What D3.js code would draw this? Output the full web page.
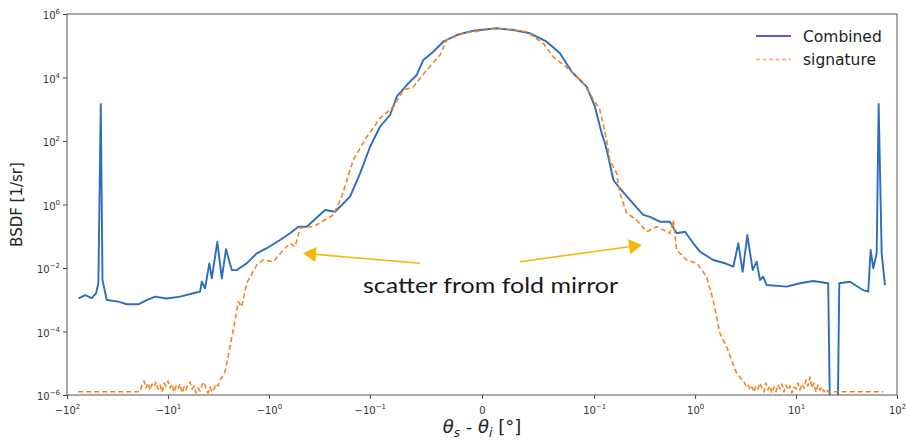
<!DOCTYPE html>
<html><head><meta charset="utf-8">
<script src="https://cdn.jsdelivr.net/npm/d3@7"></script>
<style>body{margin:0;background:#fff}</style>
</head><body>
<svg id="c" width="907" height="445"></svg>
<script>
// ---- data ----
const blueX=[-77,-66,-57,-51.5,-48.9,-46.3,-44.5,-40.4,-31,-25.6,-19.6,-16.2,-13.4,-10.3,-7.59,-5.6,-4.81,-4.62,-4.29,-3.89,-3.68,-3.24,-2.93,-2.66,-2.33,-2.08,-1.66,-1.32,-1.05,-0.776,-0.617,-0.511,-0.422,-0.278,-0.221,-0.157,-0.125,-0.0998,-0.0909,-0.082,-0.076,-0.0657,-0.0582,-0.0523,-0.0434,-0.0345,-0.0225,-0.0078,0.0131,0.0279,0.0428,0.0577,0.0695,0.08,0.0933,0.1018,0.1187,0.128,0.138,0.155,0.18,0.226,0.306,0.357,0.449,0.563,0.656,0.794,0.959,1.12,1.51,1.98,2.39,2.68,2.96,3.29,3.72,4.07,4.39,4.73,5.12,8.07,10.9,14.8,20.8,22.0,25.6,26.8,34.2,46.3,51.9,54.8,58.2,62.9,65.8,70.5,76.0];
const blueY=[1.1e-3,1.4e-3,1.13e-3,1.6e-3,3.3e-3,1460,4.2e-3,9.8e-4,8.7e-4,7.2e-4,7.2e-4,9.8e-4,1.25e-3,1.1e-3,1.25e-3,1.6e-3,1.8e-3,3.7e-3,2.3e-3,1.4e-2,4.7e-3,6.7e-2,4.7e-3,3.9e-2,8.6e-3,8.6e-3,1.4e-2,2.9e-2,4.2e-2,7.6e-2,0.124,0.2,0.2,0.67,0.59,1.76,9.6,66,282,659,2480,6560,1.2e4,3.56e4,6.5e4,1.34e5,2.18e5,2.98e5,3.55e5,3.13e5,2.47e5,1.34e5,5.8e4,1.52e4,5130,1200,175,85,32,5.9,3.2,1.39,0.47,0.41,0.287,0.287,0.124,0.139,0.06,0.0326,0.0179,0.0141,0.011,0.06,7.6e-3,0.109,8.6e-3,0.0158,4.2e-3,5.3e-3,2.9e-3,2.6e-3,3.3e-3,3.9e-3,3.3e-3,1e-8,1e-8,3.3e-3,3.7e-3,2.0e-3,1.8e-3,0.037,9.8e-3,0.029,1460,0.029,2.9e-3];
const orangeX=[-77.6,
 -18.9,-18.06,-17.25,-16.48,-15.75,-15.04,-14.37,-13.73,-13.12,-12.53,-11.97,-11.44,-10.93,-10.44,-9.98,-9.53,-9.11,-8.70,-8.31,-7.94,-7.59,-7.25,-6.93,-6.62,-6.32,-6.04,-5.77,-5.51,-5.27,-5.03,-4.81,-4.59,-4.39,-4.19,-4.01,-3.83,-3.66,-3.49,-3.34,-3.19,-3.05,-2.91,-2.78,-2.66,
 -2.43,-2.16,-2.01,-1.86,-1.66,-1.32,-1.135,-0.903,-0.719,-0.617,-0.551,-0.491,-0.406,-0.363,-0.23,-0.19,-0.146,-0.107,-0.0909,-0.079,-0.0701,-0.0612,-0.0493,-0.0374,-0.0315,-0.0167,0.0131,0.0398,0.0546,0.0635,0.0784,0.0903,0.114,0.133,0.143,0.167,0.18,0.21,0.264,0.331,0.416,0.563,0.608,0.656,0.825,1.04,1.30,1.51,1.76,2.05,2.58,
 3.05,3.19,3.34,3.49,3.66,3.83,4.01,4.19,4.39,4.59,4.81,5.03,5.27,5.51,5.77,6.04,6.32,6.62,6.93,7.25,7.59,7.94,8.31,8.70,9.11,9.53,9.98,10.44,10.93,11.44,11.97,12.53,13.12,13.73,14.37,15.04,15.75,16.48,17.25,18.06,18.9,19.78,20.7,
 73.1];
const orangeY=[1.27e-6,
 1.27e-6,2.07e-6,2.76e-6,1.66e-6,2.39e-6,1.44e-6,2.22e-6,1.79e-6,2.57e-6,1.55e-6,2.07e-6,1.24e-6,2.39e-6,1.92e-6,2.76e-6,1.66e-6,2.22e-6,1.24e-6,1.92e-6,1.55e-6,2.22e-6,1.16e-6,1.79e-6,1.44e-6,2.22e-6,2.57e-6,1.55e-6,1.92e-6,1.16e-6,1.66e-6,1.34e-6,2.07e-6,2.57e-6,1.44e-6,1.16e-6,1.79e-6,1.24e-6,1.55e-6,2.22e-6,1.92e-6,2.97e-6,3.69e-6,4.58e-6,7.08e-6,
 3.3e-5,2.3e-4,8.7e-4,6.0e-4,3.3e-3,0.0124,0.0179,0.0158,0.037,0.06,0.047,0.178,0.2,0.2,0.47,1.76,25.2,136,519,1200,4040,5130,1.72e4,5.1e4,1.52e5,2.47e5,3.55e5,2.77e5,1.19e5,4.5e4,1.72e4,6560,947,107,25,9.6,2.25,0.53,0.325,0.139,0.2,0.124,0.325,0.037,0.0179,0.0141,5.3e-3,9.8e-4,8.8e-5,3.3e-5,4.8e-6,
 2.57e-6,1.92e-6,2.22e-6,1.44e-6,1.79e-6,1.24e-6,1.92e-6,1.55e-6,2.39e-6,1.66e-6,1.24e-6,2.39e-6,1.44e-6,1.92e-6,1.16e-6,1.79e-6,1.27e-6,2.07e-6,1.55e-6,2.22e-6,1.24e-6,2.07e-6,1.44e-6,1.92e-6,1.16e-6,1.79e-6,1.55e-6,2.39e-6,1.44e-6,2.22e-6,1.66e-6,2.97e-6,1.92e-6,3.69e-6,1.66e-6,2.39e-6,1.24e-6,2.07e-6,1.44e-6,1.79e-6,1.24e-6,1.55e-6,1.27e-6,
 1.27e-6];
const seriesNames=["Combined","signature"];
const xTickValues=[-100,-10,-1,-0.1,0,0.1,1,10,100];
const xTickBase=["\u221210","\u221210","\u221210","\u221210","0","10","10","10","10"];
const xTickExp=["2","1","0","\u22121","","\u22121","0","1","2"];
const yTickValues=[1e-6,1e-4,1e-2,1,1e2,1e4,1e6];
const yTickExp=["\u22126","\u22124","\u22122","0","2","4","6"];
const annotationText="scatter from fold mirror";

// ---- scales ----
const LT=0.1, LS=1/(1-1/10);
function symT(v){const a=Math.abs(v);return a<=LT? v/LT*LS : Math.sign(v)*(LS+Math.log10(a/LT));}
const M={l:67,r:897,t:14,b:395};
const xLin=d3.scaleLinear().domain([symT(-100),symT(100)]).range([M.l,M.r]);
const X=v=>xLin(symT(v));
const Y=d3.scaleLog().domain([1e-6,1e6]).range([M.b,M.t]);

const svg=d3.select("#c");
const FONT="DejaVu Sans, sans-serif";
const tickCol="#333";

svg.append("defs").append("clipPath").attr("id","clip").append("rect")
  .attr("x",M.l).attr("y",M.t).attr("width",M.r-M.l).attr("height",M.b-M.t);

// ---- lines ----
const line=d3.line().x(d=>X(d[0])).y(d=>Y(d[1]));
const blue=blueX.map((x,i)=>[x,blueY[i]]);
const orange=orangeX.map((x,i)=>[x,orangeY[i]]);
const plot=svg.append("g").attr("clip-path","url(#clip)");
plot.append("path").datum(blue).attr("d",line).attr("fill","none")
  .attr("stroke","#2a6ec0").attr("stroke-width",1.9).attr("stroke-linejoin","round");
plot.append("path").datum(orange).attr("d",line).attr("fill","none")
  .attr("stroke","#f5821f").attr("stroke-width",1.6).attr("stroke-dasharray","5,3").attr("stroke-linejoin","round");

// ---- axes ----
const gx=svg.append("g").attr("transform",`translate(0,${M.b})`)
  .call(d3.axisBottom(xLin).tickValues(xTickValues.map(symT)).tickSize(4).tickSizeOuter(0).tickFormat(()=>""));
gx.select(".domain").remove();
gx.selectAll(".tick line").attr("stroke","#444");
gx.selectAll(".tick text").each(function(d,i){
  const t=d3.select(this).attr("y",19).attr("dy",null).attr("font-family",FONT).attr("font-size",10).attr("fill",tickCol);
  t.text(null);
  t.append("tspan").text(xTickBase[i]);
  if(xTickExp[i]) t.append("tspan").attr("dy",-5).attr("font-size",7).text(xTickExp[i]);
});
const gy=svg.append("g").attr("transform",`translate(${M.l},0)`)
  .call(d3.axisLeft(Y).tickValues(yTickValues).tickSize(4).tickSizeOuter(0).tickFormat(()=>""));
gy.select(".domain").remove();
gy.selectAll(".tick line").attr("stroke","#444");
gy.selectAll(".tick text").each(function(d,i){
  const t=d3.select(this).attr("x",-7).attr("dy",null).attr("y",4.5).attr("text-anchor","end")
    .attr("font-family",FONT).attr("font-size",10).attr("fill",tickCol);
  t.text(null);
  t.append("tspan").text("10");
  t.append("tspan").attr("dy",-5).attr("font-size",7).text(yTickExp[i]);
});
// frame
svg.append("rect").attr("x",M.l).attr("y",M.t).attr("width",M.r-M.l).attr("height",M.b-M.t)
  .attr("fill","none").attr("stroke","#555").attr("stroke-width",1);

// ---- axis labels ----
svg.append("text").attr("transform",`translate(22,${(M.t+M.b)/2}) rotate(-90)`)
  .attr("text-anchor","middle").attr("font-family",FONT).attr("font-size",15).attr("fill","#222")
  .text("BSDF [1/sr]");
const xl=svg.append("text").attr("x",(M.l+M.r)/2).attr("y",433).attr("text-anchor","middle")
  .attr("font-family",FONT).attr("font-size",18).attr("fill","#222");
xl.append("tspan").attr("font-style","italic").text("\u03b8");
xl.append("tspan").attr("font-style","italic").attr("font-size",12).attr("dy",4).text("s");
xl.append("tspan").attr("dy",-4).text(" - ");
xl.append("tspan").attr("font-style","italic").text("\u03b8");
xl.append("tspan").attr("font-style","italic").attr("font-size",12).attr("dy",4).text("i");
xl.append("tspan").attr("dy",-4).text(" [\u00b0]");

// ---- legend ----
const lg=svg.append("g");
const legendStyles=[{c:"#5858e0",w:2,dash:null},{c:"#f7a86a",w:1.5,dash:"4,2.5"}];
seriesNames.forEach((n,i)=>{
  const y=36+i*23.5;
  lg.append("line").attr("x1",756).attr("x2",791).attr("y1",y).attr("y2",y)
    .attr("stroke",legendStyles[i].c).attr("stroke-width",legendStyles[i].w)
    .attr("stroke-dasharray",legendStyles[i].dash);
  lg.append("text").attr("x",803).attr("y",y+5.5).attr("font-family",FONT).attr("font-size",15.5)
    .attr("fill","#222").text(n);
});

// ---- annotation ----
const gold="#f5b705";
function arrow(x1,y1,x2,y2){
  const a=Math.atan2(y2-y1,x2-x1), L=13, W=7.5;
  const bx=x2-L*Math.cos(a), by=y2-L*Math.sin(a);
  svg.append("line").attr("x1",x1).attr("y1",y1).attr("x2",bx).attr("y2",by)
    .attr("stroke",gold).attr("stroke-width",1.6);
  const p=[[x2,y2],[bx+W*Math.sin(a),by-W*Math.cos(a)],[bx-W*Math.sin(a),by+W*Math.cos(a)]];
  svg.append("path").attr("d","M"+p.join("L")+"Z").attr("fill",gold);
}
arrow(420,263.3,303,253.3);
arrow(520,261.7,642,245);
const ann=svg.append("text").attr("x",363).attr("y",293).attr("font-family","Lato, Open Sans, sans-serif")
  .attr("font-size",22).attr("fill","#1a1a1a").text(annotationText);
const w=ann.node().getComputedTextLength();
if(Math.abs(w-255)>4) ann.attr("textLength",255).attr("lengthAdjust","spacingAndGlyphs");
</script>
</body></html>
